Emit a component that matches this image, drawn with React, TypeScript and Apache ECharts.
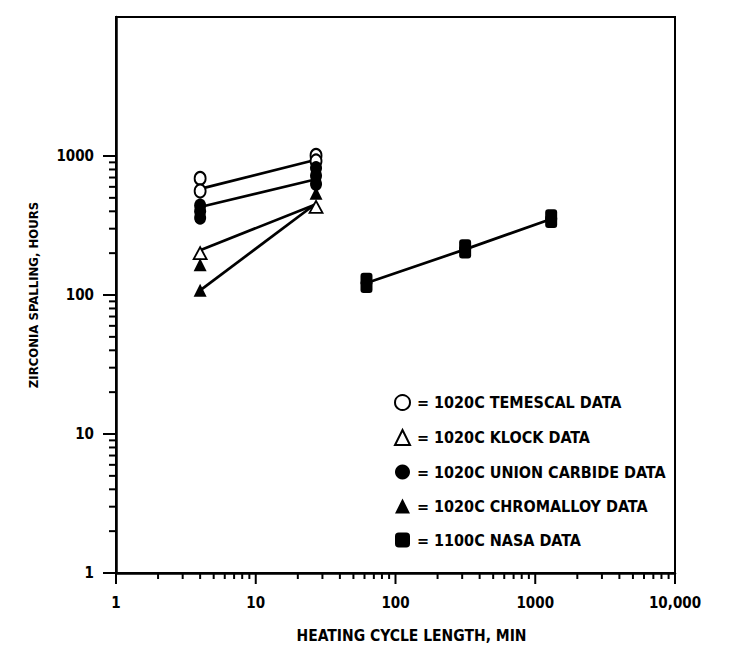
import React, { useEffect, useRef } from "react";
import * as echarts from "echarts";

// Fit lines (cycle length min, spalling hours)
const line1 = [[4, 580], [27, 940]];
const line2 = [[4, 430], [27, 680]];
const line3 = [[4, 210], [27, 450]];
const line4 = [[4, 108], [27, 455]];
const nasaLine = [[62, 122], [315, 213], [1300, 352]];

// Markers
const temescal = [[4, 690], [4, 560], [27, 1010], [27, 920]];
const klock = [[4, 200], [27, 430]];
const unionCarbide = [[4, 440], [4, 400], [4, 360], [27, 820], [27, 720], [27, 630]];
const chromalloy = [[4, 165], [4, 108], [27, 540]];
const nasa = [[62, 115], [62, 130], [315, 204], [315, 226], [1300, 338], [1300, 372]];

const seriesNames = [
  "1020C TEMESCAL DATA",
  "1020C KLOCK DATA",
  "1020C UNION CARBIDE DATA",
  "1020C CHROMALLOY DATA",
  "1100C NASA DATA",
];

const xMajorTicks = [1, 10, 100, 1000, 10000];
const yMajorTicks = [1, 10, 100, 1000];
const xMinorDecades = [1, 10, 100, 1000];
const yMinorDecades = [1, 10, 100];
const minorMultipliers = [2, 3, 4, 5, 6, 7, 8, 9];

const xTitle = "HEATING CYCLE LENGTH, MIN";
const yTitle = "ZIRCONIA SPALLING, HOURS";

const FONT = "'DejaVu Sans Condensed', 'Liberation Sans Narrow', sans-serif";

export default function App() {
  const ref = useRef<HTMLDivElement>(null);
  useEffect(() => {
    if (!ref.current) return;
    const chart = echarts.init(ref.current, null, { renderer: "svg" });
    const xMinor: number[] = [];
    xMinorDecades.forEach((d) => minorMultipliers.forEach((m) => xMinor.push(d * m)));
    const yMinor: number[] = [];
    yMinorDecades.forEach((d) => minorMultipliers.forEach((m) => yMinor.push(d * m)));

    const lineStyle = { color: "#000", width: 2.7 };
    const mkLine = (data: number[][]) => ({
      type: "line",
      data,
      symbol: "none",
      lineStyle,
      silent: true,
      z: 2,
    });

    const xTickSeries = (vals: number[], len: number) => ({
      type: "custom",
      silent: true,
      clip: false,
      data: vals.map((v) => [v, 1]),
      renderItem: (params: any, api: any) => {
        const p = api.coord([api.value(0), api.value(1)]);
        return {
          type: "line",
          shape: { x1: p[0], y1: p[1], x2: p[0], y2: p[1] + len },
          style: { stroke: "#000", lineWidth: 2 },
        };
      },
      z: 5,
    });
    const yTickSeries = (vals: number[], len: number) => ({
      type: "custom",
      silent: true,
      clip: false,
      data: vals.map((v) => [1, v]),
      renderItem: (params: any, api: any) => {
        const p = api.coord([api.value(0), api.value(1)]);
        return {
          type: "line",
          shape: { x1: p[0], y1: p[1], x2: p[0] - len, y2: p[1] },
          style: { stroke: "#000", lineWidth: 2 },
        };
      },
      z: 5,
    });

    const option: any = {
      animation: false,
      backgroundColor: "#fff",
      grid: {
        left: 116,
        top: 17,
        right: 59,
        bottom: 83,
        show: true,
        borderColor: "#000",
        borderWidth: 2,
        backgroundColor: "transparent",
      },
      legend: {
        orient: "vertical",
        left: 389,
        top: 389,
        itemWidth: 15,
        itemHeight: 15,
        itemGap: 18,
        data: seriesNames,
        formatter: "= {name}",
        textStyle: {
          fontFamily: FONT,
          fontWeight: "bold",
          fontSize: 16,
          color: "#000",
          padding: [0, 0, 0, 2],
        },
        selectedMode: false,
      },
      xAxis: {
        type: "log",
        logBase: 10,
        min: 1,
        max: 10000,
        name: xTitle,
        nameLocation: "middle",
        nameGap: 55,
        nameTextStyle: {
          fontFamily: FONT,
          fontWeight: "bold",
          fontSize: 15.5,
          color: "#000",
          padding: [0, 0, 0, 32],
        },
        axisLine: { show: true, lineStyle: { color: "#000", width: 2.5 } },
        axisTick: { show: false },
        axisLabel: {
          margin: 22,
          fontFamily: FONT,
          fontWeight: "bold",
          fontSize: 15,
          color: "#000",
          formatter: (v: number) => (v >= 10000 ? "10,000" : String(Math.round(v))),
        },
        splitLine: { show: false },
      },
      yAxis: {
        type: "log",
        logBase: 10,
        min: 1,
        max: 10000,
        name: yTitle,
        nameLocation: "middle",
        nameGap: 76,
        nameRotate: 90,
        nameTextStyle: { fontFamily: FONT, fontWeight: "bold", fontSize: 13, color: "#000" },
        axisLine: { show: true, lineStyle: { color: "#000", width: 2.5 } },
        axisTick: { show: false },
        axisLabel: {
          margin: 22,
          fontFamily: FONT,
          fontWeight: "bold",
          fontSize: 15,
          color: "#000",
          formatter: (v: number) => (v >= 10000 ? "" : String(Math.round(v))),
        },
        splitLine: { show: false },
      },
      series: [
        mkLine(line1),
        mkLine(line2),
        mkLine(line3),
        mkLine(line4),
        mkLine(nasaLine),
        {
          name: seriesNames[0],
          type: "scatter",
          data: temescal,
          symbol: "circle",
          symbolSize: [11, 13],
          itemStyle: { color: "#fff", borderColor: "#000", borderWidth: 2, opacity: 1 },
          z: 3,
        },
        {
          name: seriesNames[1],
          type: "scatter",
          data: klock,
          symbol: "triangle",
          symbolSize: [13, 12],
          itemStyle: { color: "#fff", borderColor: "#000", borderWidth: 1.8, opacity: 1 },
          z: 3,
        },
        {
          name: seriesNames[2],
          type: "scatter",
          data: unionCarbide,
          symbol: "circle",
          symbolSize: [12, 14],
          itemStyle: { color: "#000", opacity: 1 },
          z: 4,
        },
        {
          name: seriesNames[3],
          type: "scatter",
          data: chromalloy,
          symbol: "triangle",
          symbolSize: [13, 13],
          itemStyle: { color: "#000", opacity: 1 },
          z: 4,
        },
        {
          name: seriesNames[4],
          type: "scatter",
          data: nasa,
          symbol: "roundRect",
          symbolSize: [12, 13],
          itemStyle: { color: "#000", opacity: 1 },
          z: 4,
        },
        xTickSeries(xMinor, 6),
        xTickSeries(xMajorTicks, 11),
        yTickSeries(yMinor, 7),
        yTickSeries(yMajorTicks, 13),
      ],
    };
    chart.setOption(option);
    return () => chart.dispose();
  }, []);
  return (
    <div
      ref={ref}
      style={{ position: "fixed", left: 0, top: 0, width: 734, height: 656, background: "#fff" }}
    />
  );
}
